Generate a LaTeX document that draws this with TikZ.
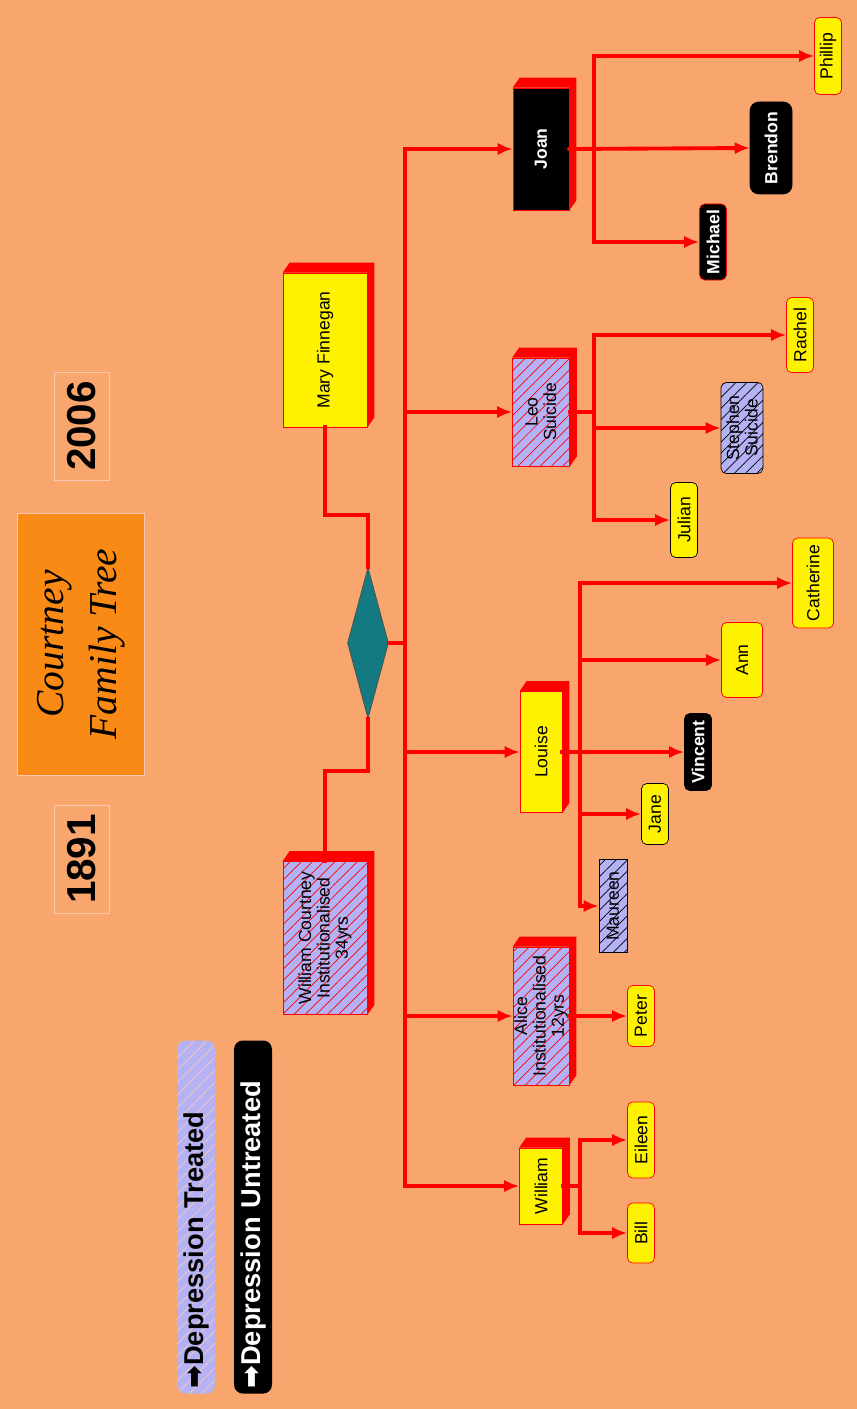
\documentclass[tikz,border=0pt]{standalone}
\usepackage{fontspec}
\setmainfont{Liberation Serif}
\setsansfont{Liberation Sans}
\newfontfamily\symfont{DejaVu Sans}
\usepackage{tikz}
\usetikzlibrary{shapes.geometric, arrows.meta, patterns.meta}
\definecolor{bgorange}{RGB}{249,166,110}
\definecolor{titleorange}{RGB}{250,138,22}
\definecolor{lav}{RGB}{180,178,245}
\definecolor{dteal}{RGB}{18,122,128}
\definecolor{paleline}{RGB}{252,200,180}
\tikzset{
  sz/.style 2 args={minimum width=#1*0.02cm, minimum height=#2*0.02cm},
  person/.style={rotate=90, inner sep=0pt, align=center, font=\sffamily\fontsize{10}{10.5}\selectfont},
  yel/.style={person, fill=yellow, draw=red},
  hatched/.style={person, fill=lav, draw=red, postaction={pattern={Lines[angle=45, distance=4.5pt, line width=0.4pt]}, pattern color=#1}},
  blk/.style={person, fill=black, text=white, font=\sffamily\bfseries\fontsize{10}{10.5}\selectfont},
  kid/.style={rounded corners=3pt},
  link/.style={draw=red, line width=2.2pt, line cap=rect},
  arr/.style={link, -{Latex[length=8.5pt, width=7pt]}},
  year/.style={draw=paleline, rotate=90, sz={108}{55}, font=\sffamily\bfseries\fontsize{23}{26}\selectfont},
  legend/.style={rotate=90, sz={353}{38}, rounded corners=5pt, inner xsep=0.1cm, text width=6.86cm, align=left, font=\sffamily\bfseries\fontsize{15.5}{17}\selectfont}
}

\begin{document}
\begin{tikzpicture}[x=0.02cm, y=-0.02cm]
\useasboundingbox (0,0) rectangle (857,1409);
\fill[bgorange] (0,0) rectangle (857,1409);

\node[draw=paleline, fill=titleorange, rotate=90, sz={262}{127}, align=center, font=\itshape\fontsize{22.5}{30}\selectfont] (title) at (81,644) {Courtney\\Family Tree};
\node[year] (yend) at (82,426) {2006};
\node[year] (ystart) at (82,859) {1891};

\node[legend, fill=lav, postaction={pattern={Lines[angle=45, distance=5pt, line width=0.4pt]}, pattern color=paleline}] (treated) at (196,1217) {{\symfont ➡}Depression Treated};
\node[legend, fill=black, text=white] (untreated) at (253,1217) {{\symfont ➡}Depression Untreated};

\node[yel, sz={154}{84}] (mary) at (325,350) {Mary Finnegan};
\node[hatched=red, sz={153}{84}] (wc) at (325,938) {William Courtney\\Institutionalised\\34yrs};
\node[diamond, draw=black!70, fill=dteal, minimum width=41*0.02cm, minimum height=151*0.02cm, inner sep=0pt] (dia) at (368,643) {};

\node[blk, draw=red, sz={122}{56}] (joan) at (541,149) {Joan};
\node[hatched=red, sz={108}{57}] (leo) at (541,412) {Leo\\Suicide};
\node[yel, sz={121}{42}] (louise) at (541,752) {Louise};
\node[hatched=red, sz={138}{56}] (alice) at (541,1016) {Alice\\Institutionalised\\12yrs};
\node[yel, sz={76}{43}] (william) at (541,1186) {William};

\foreach \b in {mary,wc,joan,leo,louise,alice,william}
  \fill[red] (\b.north east) -- ++(7,-10) -- ([shift={(7,-10)}]\b.south east) -- ([shift={(7,-10)}]\b.south west) -- (\b.south west) -- (\b.south east) -- cycle;

\node[yel, kid, sz={77}{27}] (phillip) at (828,56) {Phillip};
\node[blk, draw=black, rounded corners=5pt, sz={92}{42}] (brendon) at (771,148) {Brendon};
\node[blk, kid, draw=red, sz={76}{27}] (michael) at (713,242) {Michael};
\node[yel, kid, sz={75}{27}] (rachel) at (800,335) {Rachel};
\node[hatched=black, kid, draw=black, sz={91}{42}] (stephen) at (742,428) {Stephen\\Suicide};
\node[yel, kid, draw=black, sz={75}{27}] (julian) at (684,520) {Julian};
\node[yel, kid, sz={90}{41}] (catherine) at (813,583) {Catherine};
\node[yel, kid, sz={75}{41}] (ann) at (742,660) {Ann};
\node[blk, kid, draw=black, sz={77}{27}] (vincent) at (698,752) {Vincent};
\node[yel, kid, draw=black, sz={61}{27}] (jane) at (655,814) {Jane};
\node[hatched=black, draw=black, sz={93}{28}] (maureen) at (613,906) {Maureen};
\node[yel, kid, sz={61}{27}] (peter) at (641,1016) {Peter};
\node[yel, kid, sz={76}{27}] (eileen) at (641,1140) {Eileen};
\node[yel, kid, sz={60}{27}] (bill) at (641,1233) {Bill};

\draw[link] (mary.west) -- ++(0,88) -| (dia.north);
\draw[link] (wc.east) -- ++(0,-90) -| (dia.south);

\coordinate (trunk) at (405,0);
\coordinate (jt) at (594,0);
\coordinate (ot) at (580,0);
\draw[link] (dia.east) -- (dia.east -| trunk);
\draw[link] (joan.north -| trunk) -- (william.north -| trunk);
\foreach \c in {joan,leo,louise,alice,william}
  \draw[arr] (\c.north -| trunk) -- (\c.north);

\draw[arr] (joan.south) -- (brendon.north);
\draw[link] (phillip.north -| jt) -- (michael.north -| jt);
\foreach \c in {phillip,michael}
  \draw[arr] (\c.north -| jt) -- (\c.north);

\draw[link] (leo.south) -- (leo.south -| jt);
\draw[link] (rachel.north -| jt) -- (julian.north -| jt);
\foreach \c in {rachel,stephen,julian}
  \draw[arr] (\c.north -| jt) -- (\c.north);

\draw[arr] (louise.south) -- (vincent.north);
\draw[link] (catherine.north -| ot) -- (maureen.north -| ot);
\foreach \c in {catherine,ann,jane,maureen}
  \draw[arr] (\c.north -| ot) -- (\c.north);

\draw[arr] (alice.south) -- (peter.north);

\draw[link] (william.south) -- (william.south -| ot);
\draw[link] (eileen.north -| ot) -- (bill.north -| ot);
\foreach \c in {eileen,bill}
  \draw[arr] (\c.north -| ot) -- (\c.north);
\end{tikzpicture}
\end{document}
